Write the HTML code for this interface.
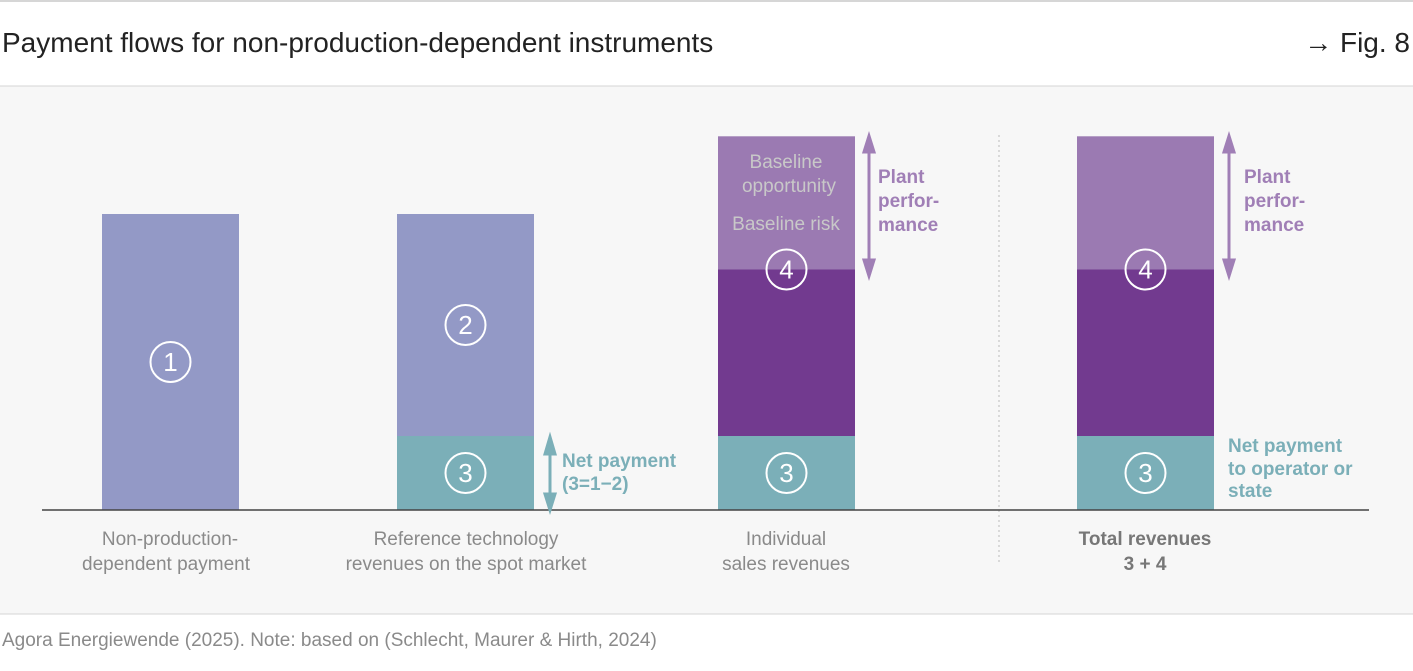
<!DOCTYPE html>
<html><head><meta charset="utf-8"><style>
body{margin:0;width:1413px;height:666px;background:#fff;font-family:"Liberation Sans",sans-serif;overflow:hidden}
</style></head><body>
<svg width="1413" height="666" xmlns="http://www.w3.org/2000/svg" font-family="Liberation Sans, sans-serif" id="chart">
<line x1="0" y1="1" x2="1413" y2="1" stroke="#d6d6d6" stroke-width="2"/>
<text x="2" y="52" font-size="28" fill="#222">Payment flows for non-production-dependent instruments</text>
<text x="1410" y="52" font-size="28" fill="#222" text-anchor="end">→ Fig. 8</text>
<rect x="0" y="86" width="1413" height="528" fill="#f7f7f7"/>
<line x1="0" y1="86" x2="1413" y2="86" stroke="#d6d6d6"/>
<line x1="0" y1="614" x2="1413" y2="614" stroke="#d6d6d6"/>
<text x="2" y="646" font-size="19" fill="#8a8a8a">Agora Energiewende (2025). Note: based on (Schlecht, Maurer &amp; Hirth, 2024)</text>
<line x1="999" y1="135" x2="999" y2="565" stroke="#bbb" stroke-dasharray="2,3"/>
<g id="bars"></g>
<line x1="42" y1="510" x2="1369" y2="510" stroke="#444" stroke-width="1.5"/>
<g font-size="19" fill="#8a8a8a" text-anchor="middle">
<text x="170" y="545">Non-production-</text>
<text x="166" y="570">dependent payment</text>
<text x="466" y="545">Reference technology</text>
<text x="466" y="570">revenues on the spot market</text>
<text x="786" y="545">Individual</text>
<text x="786" y="570">sales revenues</text>
<text x="1145" y="545" font-weight="bold" fill="#777">Total revenues</text>
<text x="1145" y="570" font-weight="bold" fill="#777">3 + 4</text>
</g>
<g font-size="19" fill="#c8c8c8" text-anchor="middle">
<text x="786" y="168">Baseline</text>
<text x="789" y="192">opportunity</text>
<text x="786" y="230">Baseline risk</text>
</g>
<g stroke-width="3">
<g stroke="#a07fb6" fill="#a07fb6">
<line x1="869" y1="146" x2="869" y2="266"/><polygon points="864,152 869,136 874,152"/><polygon points="864,260 869,276 874,260"/>
<line x1="1229" y1="146" x2="1229" y2="266"/><polygon points="1224,152 1229,136 1234,152"/><polygon points="1224,260 1229,276 1234,260"/>
</g>
<g stroke="#7bafb8" fill="#7bafb8">
<line x1="550" y1="446" x2="550" y2="502"/><polygon points="545,454 550,437 555,454"/><polygon points="545,494 550,510 555,494"/>
</g>
</g>
<g font-size="19" font-weight="bold">
<text x="878" y="183" fill="#a07fb6">Plant</text>
<text x="878" y="207" fill="#a07fb6">perfor-</text>
<text x="878" y="231" fill="#a07fb6">mance</text>
<text x="1244" y="183" fill="#a07fb6">Plant</text>
<text x="1244" y="207" fill="#a07fb6">perfor-</text>
<text x="1244" y="231" fill="#a07fb6">mance</text>
<text x="562" y="467" fill="#7bafb8">Net payment</text>
<text x="562" y="490" fill="#7bafb8">(3=1−2)</text>
<text x="1228" y="452" fill="#7bafb8">Net payment</text>
<text x="1228" y="475" fill="#7bafb8">to operator or</text>
<text x="1228" y="497" fill="#7bafb8">state</text>
</g>
</svg>
<script>
const categories = ["non-production-payment","reference-spot","individual-sales","total-revenues"];
const tealValues = [0, 1, 1, 1];
const bluePurpleValues = [4, 3, 0, 0];
const darkPurpleValues = [0, 0, 2.25, 2.25];
const lightPurpleValues = [0, 0, 1.8, 1.8];
const circleLabels = [["1"],["2","3"],["4","3"],["4","3"]];
const xLeft = [102, 397, 718, 1077];
const barW = 137, y0 = 510, unit = 74;
function y(v){return y0 - v*unit;}
const NS="http://www.w3.org/2000/svg";
const g=document.getElementById('bars');
function rect(x,v0,v1,fill,name){
  if(v1<=v0) return;
  const r=document.createElementNS(NS,'rect');
  r.setAttribute('x',x);r.setAttribute('width',barW);
  r.setAttribute('y',y(v1));r.setAttribute('height',y(v0)-y(v1));
  r.setAttribute('fill',fill);
  
  
  g.appendChild(r);
}
function circ(cx,cy,t){
  const c=document.createElementNS(NS,'circle');
  c.setAttribute('cx',cx);c.setAttribute('cy',cy);c.setAttribute('r',20);
  c.setAttribute('fill','none');c.setAttribute('stroke','#fff');c.setAttribute('stroke-width','2');
  
  
  g.appendChild(c);
  const tx=document.createElementNS(NS,'text');
  tx.setAttribute('x',cx);tx.setAttribute('y',cy+9);tx.setAttribute('text-anchor','middle');
  tx.setAttribute('font-size','26');tx.setAttribute('fill','#fff');tx.textContent=t;
  
  
  g.appendChild(tx);
}
categories.forEach((c,i)=>{
  const x=xLeft[i], cx=x+barW/2;
  let b=0;
  rect(x,b,b+tealValues[i],'#7bafb8','bar-net-payment-'+c); const t=b; b+=tealValues[i];
  rect(x,b,b+bluePurpleValues[i],'#9399c6','bar-payment-'+c); const bp=b; b+=bluePurpleValues[i];
  rect(x,b,b+darkPurpleValues[i],'#723a8f','bar-revenue-'+c); const d=b; b+=darkPurpleValues[i];
  rect(x,b,b+lightPurpleValues[i],'#9b7ab2','bar-performance-'+c);
  const labels=circleLabels[i];
  if(bluePurpleValues[i]>0 && tealValues[i]===0) circ(cx,(y(0)+y(bluePurpleValues[i]))/2,labels[0]);
  else if(bluePurpleValues[i]>0){circ(cx,(y(bp)+y(bp+bluePurpleValues[i]))/2,labels[0]);}
  else if(lightPurpleValues[i]>0){circ(cx,y(d+darkPurpleValues[i]),labels[0]);}
  if(tealValues[i]>0) circ(cx,(y(0)+y(tealValues[i]))/2,labels[labels.length-1]);
});
</script>
</body></html>
